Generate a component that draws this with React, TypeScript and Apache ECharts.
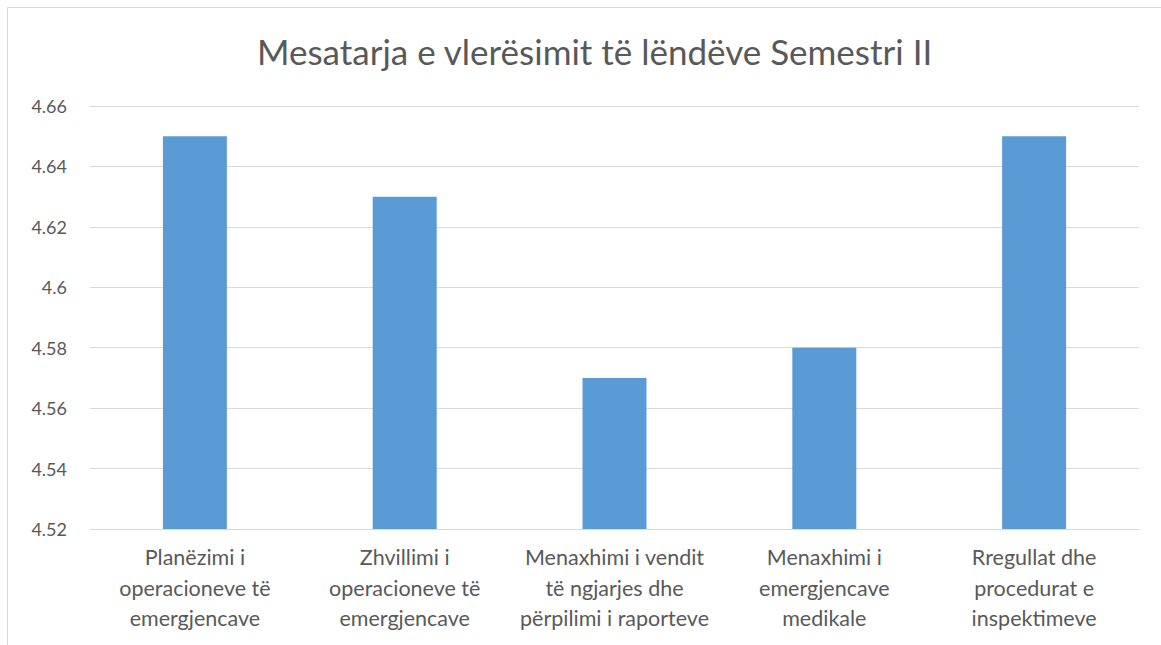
import React, { useEffect, useRef } from "react";
import * as echarts from "echarts";

const titleText = "Mesatarja e vlerësimit të lëndëve Semestri II";
const categories = [
  "Planëzimi i\noperacioneve të\nemergjencave",
  "Zhvillimi i\noperacioneve të\nemergjencave",
  "Menaxhimi i vendit\ntë ngjarjes dhe\npërpilimi i raporteve",
  "Menaxhimi i\nemergjencave\nmedikale",
  "Rregullat dhe\nprocedurat e\ninspektimeve",
];
const values = [4.65, 4.63, 4.57, 4.58, 4.65];
const yMin = 4.52;
const yMax = 4.66;
const yInterval = 0.02;

const FONT = "Lato, 'Noto Sans', sans-serif";

export default function App() {
  const ref = useRef<HTMLDivElement>(null);
  useEffect(() => {
    if (!ref.current) return;
    const chart = echarts.init(ref.current, undefined, { renderer: "svg" });
    chart.setOption({
      animation: false,
      backgroundColor: "#ffffff",
      title: {
        text: titleText,
        left: 252,
        top: 28,
        textStyle: {
          fontFamily: FONT,
          fontSize: 35,
          fontWeight: "normal",
          color: "#595959",
        },
      },
      graphic: [
        {
          type: "rect",
          shape: { x: 7.5, y: 7.5, width: 1300, height: 800 },
          style: { fill: "none", stroke: "#d9d9d9", lineWidth: 1 },
          silent: true,
        },
      ],
      grid: { left: 90, right: 22, top: 106, bottom: 116 },
      xAxis: {
        type: "category",
        data: categories,
        axisLine: { lineStyle: { color: "#d9d9d9", width: 1 } },
        axisTick: { show: false },
        axisLabel: {
          fontFamily: FONT,
          fontSize: 21.5,
          color: "#595959",
          lineHeight: 30.5,
          margin: 13,
          interval: 0,
        },
      },
      yAxis: {
        type: "value",
        min: yMin,
        max: yMax,
        interval: yInterval,
        axisLine: { show: false },
        axisTick: { show: false },
        splitLine: { lineStyle: { color: "#d9d9d9", width: 1 } },
        axisLabel: {
          fontFamily: FONT,
          fontSize: 18,
          color: "#595959",
          margin: 23,
          formatter: (v: number) => String(parseFloat(v.toFixed(2))),
        },
      },
      series: [
        {
          type: "bar",
          data: values,
          barWidth: "30.5%",
          itemStyle: { color: "#5b9bd5" },
        },
      ],
    });
    return () => chart.dispose();
  }, []);
  return (
    <div
      ref={ref}
      style={{ position: "absolute", left: 0, top: 0, width: 1161, height: 645 }}
    />
  );
}
